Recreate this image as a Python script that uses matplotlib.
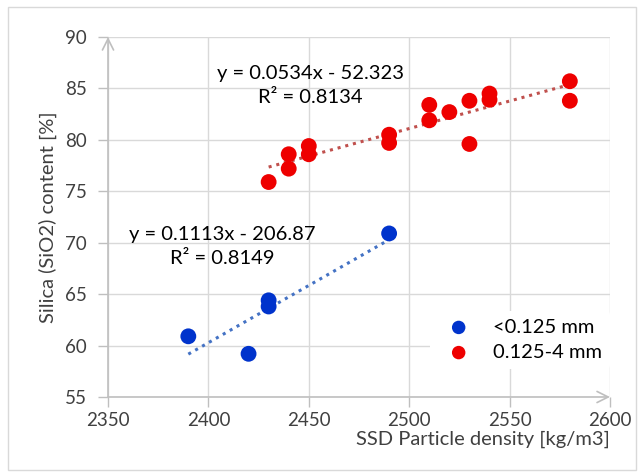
import numpy as np
import matplotlib
matplotlib.use('Agg')
import matplotlib.pyplot as plt
from matplotlib.patches import Rectangle

plt.rcParams['font.family'] = ['Lato', 'DejaVu Sans']

# fine fraction <0.125 mm
fine_x = [2390, 2420, 2430, 2430, 2490]
fine_y = [60.9, 59.2, 64.4, 63.8, 70.9]

# coarse fraction 0.125-4 mm
coarse_x = [2430, 2440, 2440, 2450, 2450, 2490, 2490, 2510, 2510, 2520,
            2530, 2530, 2540, 2540, 2580, 2580]
coarse_y = [75.9, 78.6, 77.2, 79.4, 78.6, 80.5, 79.7, 83.4, 81.9, 82.7,
            83.8, 79.6, 84.5, 83.9, 85.7, 83.8]

fine_eq = 'y = 0.1113x - 206.87\nR² = 0.8149'
coarse_eq = 'y = 0.0534x - 52.323\nR² = 0.8134'

xticks = [2350, 2400, 2450, 2500, 2550, 2600]
yticks = [55, 60, 65, 70, 75, 80, 85, 90]

grey = '#bfbfbf'
grid = '#d9d9d9'

fig = plt.figure(figsize=(6.43, 4.73), dpi=100)
ax = fig.add_axes([108 / 643, 1 - 397 / 473, 502 / 643, 360 / 473])

# outer chart border
fig.patches.append(Rectangle((8 / 643, 3 / 473), 628 / 643, 463 / 473,
                             transform=fig.transFigure, fill=False,
                             edgecolor=grid, lw=1))

ax.set_xlim(2350, 2600)
ax.set_ylim(55, 90)
ax.set_xticks(xticks)
ax.set_yticks(yticks)
ax.grid(True, color=grid, lw=1)
ax.set_axisbelow(True)
for s in ax.spines.values():
    s.set_visible(False)
ax.tick_params(axis='both', colors=grey, length=7, width=1, labelsize=13.5,
               labelcolor='#404040')
ax.tick_params(axis='y', pad=8)
ax.tick_params(axis='x', pad=4)

# axis lines with open arrows
ax.annotate('', xy=(0, 1), xytext=(0, 0), xycoords='axes fraction',
            arrowprops=dict(arrowstyle='->,head_length=0.8,head_width=0.4',
                            color=grey, lw=1.2, shrinkA=0, shrinkB=0))
ax.annotate('', xy=(1, 0), xytext=(0, 0), xycoords='axes fraction',
            arrowprops=dict(arrowstyle='->,head_length=0.8,head_width=0.4',
                            color=grey, lw=1.2, shrinkA=0, shrinkB=0))

# trendlines
for xs, ys, c in [(fine_x, fine_y, '#4472c4'), (coarse_x, coarse_y, '#c0504d')]:
    k, b = np.polyfit(xs, ys, 1)
    tx = np.array([min(xs), max(xs)])
    ax.plot(tx, k * tx + b, ls=(0, (1, 1.6)), color=c, lw=2.2, zorder=2)

ax.scatter(fine_x, fine_y, s=130, color='#0033cc', zorder=3, label='<0.125 mm',
           edgecolors='none')
ax.scatter(coarse_x, coarse_y, s=130, color='#ee0000', zorder=3, label='0.125-4 mm',
           edgecolors='none')

ax.text(2407, 69.6, fine_eq, ha='center', va='center', fontsize=14.5,
        color='black', linespacing=1.5)
ax.text(2451, 85.3, coarse_eq, ha='center', va='center', fontsize=14.5,
        color='black', linespacing=1.5)

leg = ax.legend(loc='lower right', bbox_to_anchor=(1.02, 0.05), frameon=True,
                fontsize=14.5, handletextpad=0.7, borderpad=0.4, labelspacing=0.4,
                scatterpoints=1, markerscale=0.85)
leg.get_frame().set_edgecolor('none')
leg.get_frame().set_facecolor('white')
leg.get_frame().set_alpha(1)
for t in leg.get_texts():
    t.set_color('black')

ax.set_ylabel('Silica (SiO2) content [%]', fontsize=14.5, color='#404040', labelpad=6)
ax.set_xlabel('SSD Particle density [kg/m3]', fontsize=14.5, color='#404040',
              loc='right', labelpad=1)

fig.savefig('out.png', dpi=100)
